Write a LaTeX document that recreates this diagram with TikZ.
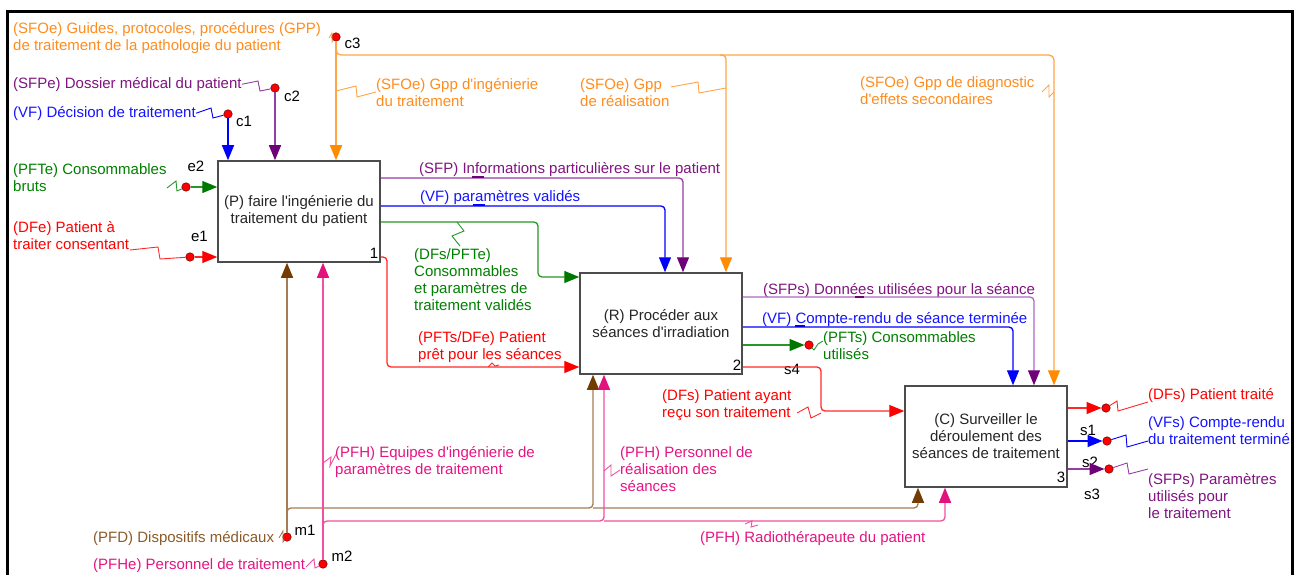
\documentclass[tikz,border=0pt]{standalone}
\usepackage{fontspec}
\setmainfont{Liberation Sans}[Ligatures=TeXOff]
\usetikzlibrary{arrows.meta,calc}
\definecolor{orT}{RGB}{255,140,30}
\definecolor{orL}{RGB}{255,165,70}
\definecolor{orA}{RGB}{255,140,0}
\definecolor{puT}{RGB}{128,20,128}
\definecolor{puL}{RGB}{150,60,165}
\definecolor{puL2}{RGB}{175,105,195}
\definecolor{puA}{RGB}{110,0,120}
\definecolor{blT}{RGB}{20,20,255}
\definecolor{blL}{RGB}{0,0,255}
\definecolor{grT}{RGB}{0,128,0}
\definecolor{grL}{RGB}{40,150,40}
\definecolor{grA}{RGB}{0,120,0}
\definecolor{rdT}{RGB}{255,0,0}
\definecolor{rdL}{RGB}{255,40,40}
\definecolor{brT}{RGB}{140,90,40}
\definecolor{brL}{RGB}{165,125,85}
\definecolor{brA}{RGB}{115,60,0}
\definecolor{pkT}{RGB}{230,20,130}
\definecolor{pkL}{RGB}{240,80,160}
\definecolor{pkA}{RGB}{225,20,125}
\begin{document}
\begin{tikzpicture}[x=1pt,y=-1pt,font=\fontsize{15}{17}\selectfont,
 conn/.style={line width=1.3pt, rounded corners=4pt},
 lead/.style={line width=0.9pt},
 lt/.style={anchor=north west, align=left, inner sep=0pt},
 tag/.style={inner sep=0pt, text=black},
 dot/.style={circle, fill=red, draw=red!40!black, line width=0.5pt, inner sep=0pt, minimum size=8.5pt},
 box/.style={draw=black!70, line width=1.5pt, fill=white, minimum width=162pt, minimum height=101pt, align=center, inner sep=0pt, text=black!85},
 tipO/.style={-{Triangle[length=15pt,width=12pt,color=orA]}},
 tipP/.style={-{Triangle[length=15pt,width=12pt,color=puA]}},
 tipB/.style={-{Triangle[length=15pt,width=12pt,color=blL]}},
 tipG/.style={-{Triangle[length=15pt,width=12pt,color=grA]}},
 tipR/.style={-{Triangle[length=15pt,width=12pt,color=rdT]}},
 tipBr/.style={-{Triangle[length=15pt,width=12pt,color=brA]}},
 tipPk/.style={-{Triangle[length=15pt,width=12pt,color=pkA]}}
]
\useasboundingbox (0,0) rectangle (1296,575);
% frame
\draw[line width=3pt] (7,575) -- (7,12) -- (1292,12) -- (1292,575);

% boxes
\node[box] (b1) at (299,211.5) {(P) faire l'ingénierie du\\traitement du patient};
\node[box] (b2) at (661,323.5) {(R) Procéder aux\\séances d'irradiation};
\node[box] (b3) at (986,436.5) {(C) Surveiller le\\déroulement des\\séances de traitement};
\node[tag] at (374,253) {1};
\node[tag] at (737,365) {2};
\node[tag] at (1061,477) {3};

% dots
\node[dot] (c3) at (336,37) {};
\node[dot] (c2) at (275,88) {};
\node[dot] (c1) at (228,114) {};
\node[dot] (e2) at (186,187) {};
\node[dot] (e1) at (190,257) {};
\node[dot] (m1) at (287,537) {};
\node[dot] (m2) at (323,564) {};
\node[dot] (s4) at (809,345) {};
\node[dot] (s0) at (1106,408) {};
\node[dot] (s1d) at (1107,441) {};
\node[dot] (s2d) at (1109,469) {};

% tags
\node[tag] at (352.5,43) {c3};
\node[tag] at (292,96) {c2};
\node[tag] at (244,121) {c1};
\node[tag] at (196,166) {e2};
\node[tag] at (199.5,236) {e1};
\node[tag] at (305,530) {m1};
\node[tag] at (342,556) {m2};
\node[tag] at (792,369) {s4};
\node[tag] at (1088,430) {s1};
\node[tag] at (1090,462) {s2};
\node[tag] at (1092,494) {s3};

% labels
\node[lt, text=orT] (gpp) at (13,22) {(SFOe) Guides, protocoles, procédures (GPP)\\de traitement de la pathologie du patient};
\node[lt, text=orT] (gppi) at (376,78) {(SFOe) Gpp d'ingénierie\\du traitement};
\node[lt, text=orT] (gppr) at (580,78) {(SFOe) Gpp\\de réalisation};
\node[lt, text=orT] (gppd) at (860,76) {(SFOe) Gpp de diagnostic\\d'effets secondaires};
\node[lt, text=puT] (dos) at (13,77) {(SFPe) Dossier médical du patient};
\node[lt, text=blT] (dec) at (13,106) {(VF) Décision de traitement};
\node[lt, text=grT] (cons) at (13,163) {(PFTe) Consommables\\bruts};
\node[lt, text=rdT] (pat) at (13,221) {(DFe) Patient à\\traiter consentant};
\node[lt, text=puT] (sfp) at (419,162) {(SFP) Informations particulières sur le patient};
\node[lt, text=blT] (vfp) at (420,190) {(VF) paramètres validés};
\node[lt, text=grT] (dfs) at (414,248) {(DFs/PFTe)\\Consommables\\et paramètres de\\traitement validés};
\node[lt, text=rdT] (ppl) at (418,331) {(PFTs/DFe) Patient\\prêt pour les séances};
\node[lt, text=brT] (pfd) at (93,531) {(PFD) Dispositifs médicaux};
\node[lt, text=pkT] (pfhe) at (93,558) {(PFHe) Personnel de traitement};
\node[lt, text=pkT] (pfhi) at (335,446) {(PFH) Equipes d'ingénierie de\\paramètres de traitement};
\node[lt, text=pkT] (pfhr) at (620,446) {(PFH) Personnel de\\réalisation des\\séances};
\node[lt, text=pkT] (radio) at (700,531) {(PFH) Radiothérapeute du patient};
\node[lt, text=puT] (sfps) at (763,283) {(SFPs) Données utilisées pour la séance};
\node[lt, text=blT] (vfc) at (762,312) {(VF) Compte-rendu de séance terminée};
\node[lt, text=grT] (pfts) at (823,331) {(PFTs) Consommables\\utilisés};
\node[lt, text=rdT] (pay) at (662,389) {(DFs) Patient ayant\\reçu son traitement};
\node[lt, text=rdT] (ptr) at (1148,388) {(DFs) Patient traité};
\node[lt, text=blT] (vfs) at (1148,416) {(VFs) Compte-rendu\\du traitement terminé};
\node[lt, text=puT] (spu) at (1148,473) {(SFPs) Paramètres\\utilisés pour\\le traitement};

% coordinates
\coordinate (o55) at (1054,55);
\coordinate (o2) at (726,55);
\coordinate (p1) at (683,178);
\coordinate (v1) at (665,206);
\coordinate (g1) at (538,222);
\coordinate (g2) at (538,277);
\coordinate (r1) at (387,257);
\coordinate (r2) at (387,367);
\coordinate (bx2) at (593,508);
\coordinate (bx3) at (918,508);
\coordinate (px2) at (604,521);
\coordinate (px3) at (945,521);
\coordinate (p2) at (1034,297);
\coordinate (v2) at (1013,327);
\coordinate (r3) at (821,367);
\coordinate (r4) at (821,411);

% controls
\draw[orL, conn, tipO] (c3) -- (c3 |- b1.north);
\draw[orL, conn, rounded corners=5pt, tipO] (c3) |- (o55) -- (o55 |- b3.north);
\draw[orL, conn, tipO] ($(o2)+(-6,0)$) -| (o2 |- b2.north);
\draw[puL, conn, tipP] (c2) -- (c2 |- b1.north);
\draw[blL, conn, tipB] (c1) -- (c1 |- b1.north);

% inputs
\draw[grL, conn, tipG] (e2) -- (e2 -| b1.west);
\draw[rdL, conn, tipR] (e1) -- (e1 -| b1.west);

% box 1 outputs
\draw[puL, conn, tipP] (p1 -| b1.east) -| (p1 |- b2.north);
\draw[blL, conn, tipB] (v1 -| b1.east) -| (v1 |- b2.north);
\draw[grL, conn, tipG] (g1 -| b1.east) -| (g2) -- (g2 -| b2.west);
\draw[rdL, conn, tipR] (r1 -| b1.east) -- (r1) -- (r2) -- (r2 -| b2.west);

% mechanisms
\draw[brL, conn, tipBr] (m1) -- (m1 |- b1.south);
\draw[brL, conn, tipBr] ($(m1 |- bx2)+(0,4)$) |- (bx2) -- (bx2 |- b2.south);
\draw[brL, conn, tipBr] (bx2) -| (bx3 |- b3.south);
\draw[pkL, conn, tipPk] (m2) -- (m2 |- b1.south);
\draw[pkL, conn, tipPk] ($(m2 |- px2)+(0,4)$) |- (px2) -- (px2 |- b2.south);
\draw[pkL, conn, tipPk] (px2) -| (px3 |- b3.south);

% box 2 outputs
\draw[puL2, conn, tipP] (p2 -| b2.east) -| (p2 |- b3.north);
\draw[blL, conn, tipB] (v2 -| b2.east) -| (v2 |- b3.north);
\draw[grL, conn, tipG] (b2.east |- s4) -- (s4);
\draw[rdL, conn, tipR] (r3 -| b2.east) -- (r3) -- (r4) -- (r4 -| b3.west);

% box 3 outputs
\draw[rdL, conn, tipR] (b3.east |- s0) -- (s0);
\draw[blL, conn, tipB] (b3.east |- s1d) -- (s1d);
\draw[puL, conn, tipP] (b3.east |- s2d) -- (s2d);

% leaders
\draw[orL, lead] (329,38) -- (332,33) -- (332,42) -- (c3);
\draw[orL, lead] (336,91) -- (356,86) -- (357,97) -- (gppi.west |- 0,92);
\draw[orL, lead] (671,87) -- (698,82) -- (699,93) -- (726,88);
\draw[orL, lead] (1042,92) -- (1049,85) -- (1049,97) -- (1054,92);
\draw[puL, lead] (dos.east) -- (258,81) -- (260,91) -- (c2);
\draw[blL, lead] (dec.east) -- (211,108) -- (213,118) -- (c1);
\draw[grL, lead] (167,188) -- (176,181) -- (177,191) -- (e2);
\draw[rdL, lead] (130,250) -- (158,247) -- (160,259) -- (e1);
\draw[puA, line width=1.6pt] (472,177) -- (484,177);
\draw[blL, line width=1.6pt] (473,205) -- (485,205);
\draw[grL, lead] (457,222) -- (464,231) -- (452,236) -- (460,246);
\draw[rdL, lead] (488,367) -- (492,363) -- (495,366) -- (499,365);
\draw[brL, lead] (279,538) -- (283,531) -- (283,542) -- (m1);
\draw[pkL, lead] (306,567) -- (314,559) -- (315,568) -- (m2);
\draw[pkL, lead] (323,463) -- (331,457) -- (330,466) -- (336,454);
\draw[pkL, lead] (604,471) -- (611,465) -- (611,476) -- (620,470);
\draw[pkL, lead] (745,524) -- (752,521) -- (751,527) -- (758,525);
\draw[puA, line width=1.6pt] (855,297) -- (864,297);
\draw[blL, line width=1.6pt] (795,326) -- (805,326);
\draw[grL, lead] (s4) -- (814,350) -- (818,344) -- (823,341);
\draw[rdL, lead] (797,413) -- (808,407) -- (811,418) -- (821,413);
\draw[rdL, lead] (s0) -- (1117,401) -- (1118,411) -- (1148,402);
\draw[blL, lead] (s1d) -- (1126,435) -- (1127,447) -- (1148,441);
\draw[puL, lead] (s2d) -- (1127,463) -- (1129,474) -- (1148,469);
\end{tikzpicture}
\end{document}
